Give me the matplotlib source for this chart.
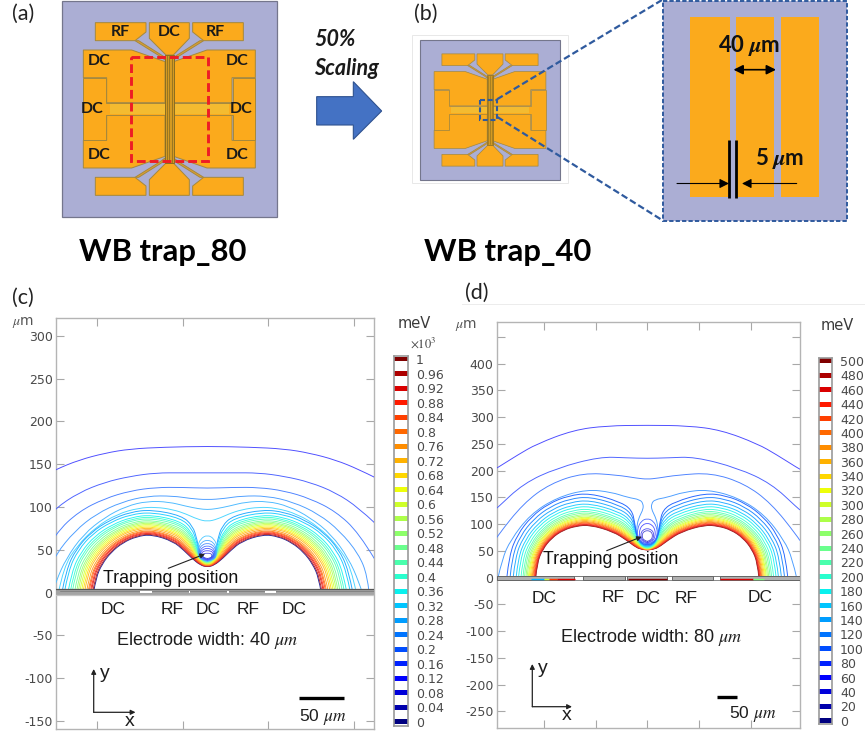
import numpy as np
import matplotlib
matplotlib.use("Agg")
import matplotlib.pyplot as plt
from matplotlib.colors import to_rgb
from matplotlib.patches import Polygon, Rectangle, PathPatch
from matplotlib.path import Path

plt.rcParams['axes.unicode_minus'] = False
plt.rcParams['mathtext.fontset'] = 'stix'

W, H = 865, 737

# ---------- Panel (c): contours in micrometres, left half (mirrored about x=0) ----------
C_YTICKS = [300, 250, 200, 150, 100, 50, 0, -50, -100, -150]
C_XTICKS = [-129, -29, 71, 171]
C_COLORBAR_LABELS = ['1', '0.96', '0.92', '0.88', '0.84', '0.8', '0.76', '0.72', '0.68', '0.64', '0.6', '0.56', '0.52',
                     '0.48', '0.44', '0.4', '0.36', '0.32', '0.28', '0.24', '0.2', '0.16', '0.12', '0.08', '0.04', '0']
C_COLORBAR_VALUES = [1, .96, .92, .88, .84, .8, .76, .72, .68, .64, .6, .56, .52,
                     .48, .44, .4, .36, .32, .28, .24, .2, .16, .12, .08, .04, 0]
C_OUTER_LEVELS = [.04, .08, .12, .16, .20, .24]
C_OUTER = [
    [(-195, 135), (-177, 144), (-150, 155), (-120, 163), (-90, 168), (-50, 170), (0, 171)],
    [(-195, 82), (-177, 99), (-150, 117), (-120, 129), (-90, 136), (-60, 140), (-30, 140), (0, 140)],
    [(-195, 40), (-177, 70), (-150, 95), (-120, 110), (-90, 119), (-60, 123), (-30, 123), (0, 122)],
    [(-189, 0), (-187, 20), (-177, 45), (-155, 72), (-130, 92), (-100, 106), (-70, 113), (-40, 113), (-20, 110), (0, 108.5)],
    [(-181, 0), (-177, 13), (-165, 40), (-145, 68), (-120, 88), (-95, 101), (-70, 107), (-45, 106), (-25, 101), (-10, 98), (0, 97)],
    [(-174, 0), (-168, 30), (-152, 55), (-130, 77), (-105, 92), (-80, 99), (-60, 100), (-40, 97), (-25, 92), (-12, 86), (0, 83)],
]
C_LOBE_X = -65
LOBE_ANGLES = [180, 165, 150, 135, 120, 105, 90]
C_LOBE_LEVELS = [1, .96, .92, .88, .84, .8, .76, .72, .68, .64, .6, .56, .52, .48, .44, .4, .36, .32, .28]
C_LOBE_R = [
    [68, 67.5, 67, 67, 67.5, 68, 68], [69, 68.6, 68, 68, 68.4, 68.9, 69], [70.7, 70.1, 69.5, 69.4, 69.7, 70.1, 70],
    [71.8, 71.2, 70.6, 70.4, 70.6, 71, 71], [73.3, 72.7, 72, 71.8, 71.8, 72.1, 72], [74.5, 73.8, 73.1, 72.8, 72.8, 73, 73],
    [76.4, 75.6, 74.9, 74.5, 74.3, 74.5, 74.5], [78.6, 77.9, 77.1, 76.5, 76.2, 76.3, 76], [80.5, 79.7, 78.9, 78.2, 77.7, 77.7, 77.5],
    [82.4, 81.6, 80.7, 79.9, 79.3, 79.2, 79], [84.3, 83.4, 82.5, 81.6, 80.8, 80.7, 80.5], [86.2, 85.3, 84.3, 83.3, 82.4, 82.2, 82],
    [88.1, 87.1, 86.1, 85, 83.9, 83.6, 83.5], [90.4, 89.3, 88.2, 87.1, 85.8, 85.4, 85], [93.1, 91.9, 90.8, 89.4, 88, 87.5, 87],
    [95.4, 94.1, 92.9, 91.5, 89.8, 89.2, 89], [98, 96.7, 95.4, 93.9, 92, 91.3, 91], [102.2, 100.8, 99.4, 97.6, 95.4, 94.6, 94],
    [105, 103.5, 102, 100, 98, 97.5, 97],
]
C_LOBE_TAIL = [
    [(-40, 60), (-27, 49), (-18, 40), (-8, 32), (0, 30)],
    [(-39.7, 60.9), (-26.7, 49.9), (-17.8, 40.7), (-8, 32.4), (0, 30.2)],
    [(-39.3, 62.1), (-26.3, 51), (-17.6, 41.5), (-8.1, 33), (0, 30.5)],
    [(-39, 63), (-26, 51.9), (-17.4, 42.2), (-8.1, 33.4), (0, 30.7)],
    [(-38.6, 64.2), (-25.6, 53), (-17.2, 43.1), (-8.1, 34), (0, 30.9)],
    [(-38.3, 65.1), (-25.3, 53.9), (-17, 43.7), (-8.2, 34.4), (0, 31.1)],
    [(-37.8, 66.6), (-24.8, 55.4), (-16.7, 44.8), (-8.2, 35), (0, 31.4)],
    [(-37.2, 68.4), (-24.2, 57.1), (-16.3, 46.2), (-8.3, 35.9), (0, 31.8)],
    [(-36.7, 69.9), (-23.7, 58.6), (-16, 47.3), (-8.3, 36.6), (0, 32.1)],
    [(-36.2, 71.4), (-23.2, 60), (-15.7, 48.4), (-8.4, 37.3), (0, 32.5)],
    [(-35.7, 72.9), (-22.7, 61.5), (-15.4, 49.5), (-8.4, 38), (0, 32.8)],
    [(-35.2, 74.4), (-22.2, 62.9), (-15.1, 50.6), (-8.5, 38.7), (0, 33.1)],
    [(-34.7, 75.9), (-21.7, 64.4), (-14.8, 51.7), (-8.5, 39.4), (0, 33.4)],
    [(-34.1, 77.7), (-21.1, 66.1), (-14.5, 53), (-8.6, 40.3), (0, 33.8)],
    [(-33.4, 79.8), (-20.4, 68.1), (-14, 54.5), (-8.7, 41.2), (0, 34.3)],
    [(-32.8, 81.6), (-19.8, 69.9), (-13.7, 55.8), (-8.7, 42.1), (0, 34.7)],
    [(-32.1, 83.7), (-19.1, 71.9), (-13.3, 57.4), (-8.8, 43.1), (0, 35.1)],
    [(-31, 87), (-18, 75.1), (-12.6, 59.8), (-8.9, 44.6), (0, 35.9)],
    [(-30, 90), (-17, 78), (-12, 62), (-9, 46), (0, 36.5)],
]
C_LOOP_LEVELS = [.26, .22, .18, .14, .10, .06, .03]
C_LOOPS = [
    [(0, 36.5), (-8, 38), (-11, 45), (-11.5, 54), (-8, 63), (0, 67.6)],
    [(0, 37), (-8, 38.5), (-10.5, 45), (-10.5, 52), (-7, 59), (0, 61.7)],
    [(0, 37.5), (-7.5, 39), (-10, 45), (-9.5, 51), (-6, 56), (0, 57.8)],
    [(0, 38), (-7, 39.5), (-9, 45), (-8.5, 49.5), (-5, 53.5), (0, 54.7)],
    [(0, 38.5), (-6.5, 40), (-8, 45), (-7.5, 48.5), (-4, 51), (0, 52)],
    [(0, 39), (-5.5, 40.5), (-7, 44), (-6, 47.5), (-3, 48.8), (0, 49)],
    [(0, 40), (-4, 40.5), (-5.5, 43), (-4.5, 45.5), (-2, 46), (0, 46)],
]
C_GAPS = [(-79, -65), (-22, -20), (23, 25), (67, 80)]

# ---------- Panel (d) ----------
D_YTICKS = [400, 350, 300, 250, 200, 150, 100, 50, 0, -50, -100, -150, -200, -250]
D_XTICKS = [-200, -100, 0, 100, 200]
D_COLORBAR_VALUES = [500, 480, 460, 440, 420, 400, 380, 360, 340, 320, 300, 280, 260,
                     240, 220, 200, 180, 160, 140, 120, 100, 80, 60, 40, 20, 0]
D_OUTER_LEVELS = [20, 40, 60, 80]
D_OUTER = [
    [(-295, 203), (-291, 205), (-250, 230), (-214, 250), (-143, 276), (-79, 284), (0, 285)],
    [(-295, 127), (-291, 130), (-240, 176), (-175, 205), (-92, 226), (-40, 224), (0, 223)],
    [(-295, 70), (-291, 77), (-240, 139), (-188, 176), (-124, 196), (-59, 192), (-20, 186), (0, 184)],
    [(-289, 0), (-281, 35), (-265, 70), (-227, 118), (-175, 150), (-117, 165), (-70, 160), (-38, 150), (-14, 146), (-8, 138),
     (-8, 128), (-15, 115), (-20, 100), (-21, 80), (-13, 67), (0, 62)],
]
D_LOBE_X = -111
D_LOBE_LEVELS = [500, 480, 460, 440, 420, 400, 380, 360, 340, 320, 300, 280, 260, 240, 220, 200, 180, 160, 140, 120, 100]
D_LOBE_R = [
    [105, 106, 106, 105, 103, 100, 98.6], [105.7, 106.7, 106.7, 105.7, 103.7, 100.8, 99.4], [106.7, 107.7, 107.7, 106.7, 104.7, 101.8, 100.3],
    [107.8, 108.8, 108.8, 107.8, 105.9, 103, 101.5], [109.1, 110.1, 110.1, 109.1, 107.2, 104.4, 103], [110.6, 111.6, 111.6, 110.6, 108.7, 105.9, 104.5],
    [112, 113, 113, 112, 110.1, 107.4, 106], [113.8, 114.8, 114.8, 113.8, 112, 109.3, 108], [115.8, 116.8, 116.8, 115.8, 113.9, 111.3, 110],
    [117.7, 118.7, 118.7, 117.7, 115.9, 113.3, 112], [119.5, 120.5, 120.5, 119.5, 117.8, 115.3, 114], [121.9, 122.9, 122.9, 121.9, 120.2, 117.8, 116.5],
    [124.2, 125.2, 125.2, 124.2, 122.6, 120.2, 119], [127, 128, 128, 127, 125.5, 123.2, 122], [129.9, 130.9, 130.9, 129.9, 128.3, 126.2, 125],
    [133.7, 134.7, 134.7, 133.7, 132.2, 130.2, 129], [138.4, 139.4, 139.4, 138.4, 137, 135.2, 134], [143, 144, 144, 143, 141.8, 140.1, 139],
    [148.7, 149.7, 149.7, 148.7, 147.5, 146.1, 145], [154.8, 155.8, 155.8, 154.8, 153.7, 152.5, 151.5], [161, 162, 162, 161, 160, 159, 158],
]
D_LOBE_TAIL = [
    [(-66, 86), (-40, 70), (-21, 56), (-10, 53), (-4, 52.2), (0, 52)],
    [(-65.8, 86.7), (-39.9, 70.7), (-21, 56.6), (-10.1, 53.3), (-4.1, 52.4), (0, 52.1)],
    [(-65.6, 87.7), (-39.7, 71.7), (-21.1, 57.4), (-10.3, 53.7), (-4.2, 52.6), (0, 52.3)],
    [(-65.4, 88.8), (-39.5, 72.9), (-21.2, 58.3), (-10.6, 54.2), (-4.4, 52.8), (0, 52.5)],
    [(-65, 90.1), (-39.3, 74.2), (-21.2, 59.4), (-10.8, 54.8), (-4.5, 53.1), (0, 52.7)],
    [(-64.7, 91.6), (-39, 75.7), (-21.3, 60.6), (-11.1, 55.4), (-4.7, 53.4), (0, 52.9)],
    [(-64.4, 93), (-38.8, 77.1), (-21.4, 61.8), (-11.4, 56), (-4.9, 53.7), (0, 53.1)],
    [(-63.9, 94.8), (-38.4, 79), (-21.5, 63.3), (-11.7, 56.8), (-5.1, 54.1), (0, 53.4)],
    [(-63.5, 96.8), (-38.1, 80.9), (-21.6, 64.8), (-12.1, 57.6), (-5.3, 54.5), (0, 53.7)],
    [(-63.1, 98.7), (-37.7, 82.9), (-21.7, 66.4), (-12.5, 58.4), (-5.6, 54.9), (0, 54)],
    [(-62.6, 100.5), (-37.4, 84.8), (-21.8, 67.9), (-12.8, 59.2), (-5.8, 55.3), (0, 54.3)],
    [(-62.1, 102.9), (-37, 87.2), (-21.9, 69.8), (-13.3, 60.2), (-6.1, 55.8), (0, 54.7)],
    [(-61.5, 105.2), (-36.6, 89.6), (-22, 71.8), (-13.8, 61.2), (-6.4, 56.2), (0, 55.1)],
    [(-60.9, 108.1), (-36.1, 92.5), (-22.2, 74.1), (-14.3, 62.5), (-6.8, 56.8), (0, 55.5)],
    [(-60.2, 110.9), (-35.6, 95.3), (-22.3, 76.4), (-14.9, 63.7), (-7.1, 57.4), (0, 56)],
    [(-59.3, 114.7), (-34.9, 99.2), (-22.5, 79.6), (-15.6, 65.3), (-7.6, 58.2), (0, 56.6)],
    [(-58.3, 119.4), (-34, 104), (-22.8, 83.4), (-16.6, 67.3), (-8.2, 59.2), (0, 57.4)],
    [(-57.2, 124.1), (-33.2, 108.8), (-23, 87.3), (-17.5, 69.3), (-8.8, 60.2), (0, 58.1)],
    [(-55.8, 129.7), (-32.2, 114.5), (-23.3, 91.9), (-18.6, 71.7), (-9.5, 61.4), (0, 59)],
    [(-54.4, 135.8), (-31.1, 120.7), (-23.7, 97), (-19.8, 74.4), (-10.2, 62.7), (0, 60)],
    [(-53, 142), (-30, 127), (-24, 102), (-21, 77), (-11, 64), (0, 61)],
]
D_LOOP_LEVELS = [70, 50, 30, 15]
D_LOOPS = [
    [(0, 63.5), (-13, 66), (-19, 78), (-19, 92), (-12, 106), (0, 111)],
    [(0, 65), (-11, 68), (-15.5, 78), (-15, 90), (-9, 99), (0, 102)],
    [(0, 66), (-9, 69), (-12.5, 77), (-12, 85), (-7, 90), (0, 92)],
    [(0, 68), (-7, 70), (-10, 76), (-9.5, 83), (-5, 87), (0, 88)],
]
D_SEGMENTS = [(-225, -200, .3), (-200, -190, .6), (-190, -175, .85), (-175, -140, .92), (-38, 38, 1.0), (140, 205, .92), (205, 225, .5)]
D_ELECTRODES = [(-291, -141), (-124, -43), (-39, 39), (47, 128), (141, 295)]


def px_axes(fig, l, t, r, b):
    return fig.add_axes([l / W, 1 - b / H, (r - l) / W, (b - t) / H])


def soft(color, white):
    c = np.array(to_rgb(color))
    return tuple(c + (1 - c) * white)


def spline_patch(pts, color, lw=0.68, z=3):
    pts = np.asarray(pts, float)
    verts = [pts[0]]
    codes = [Path.MOVETO]
    for i in range(1, len(pts) - 1):
        end = pts[i + 1] if i == len(pts) - 2 else (pts[i] + pts[i + 1]) / 2
        verts += [pts[i], end]
        codes += [Path.CURVE3, Path.CURVE3]
    return PathPatch(Path(verts, codes), fill=False, edgecolor=color, lw=lw, zorder=z, capstyle='round')


def mirrored(half):
    half = np.asarray(half, float)
    other = half[:-1][::-1] * np.array([-1, 1])
    return np.vstack([half, other])


def lobe_half(center, radii, tail):
    a = np.deg2rad(LOBE_ANGLES)
    r = np.asarray(radii)
    head = np.column_stack([center + r * np.cos(a), r * np.sin(a)])
    return np.vstack([head, np.asarray(tail, float)])


def style_axes(ax, xlim, ylim, xticks, yticks, extra=()):
    ax.set_xlim(*xlim)
    ax.set_ylim(*ylim)
    ax.set_xticks(xticks)
    ax.set_yticks(list(yticks) + list(extra))
    ax.set_yticklabels([str(v) for v in yticks] + ['' for _ in extra])
    ax.tick_params(axis='both', direction='in', length=5.5, width=0.8, color='#a8a8a8',
                   top=True, right=True, labelbottom=False, labelsize=9, labelcolor='#4a4a4a', pad=2.5)
    for s in ax.spines.values():
        s.set_color('#b4b4b4')
        s.set_linewidth(1.0)


def colorbar(fig, l, r, t, b, values, labels, y_zero, y_max, vmax):
    ax = px_axes(fig, l, t, r, b)
    per_px = vmax / (y_zero - y_max)
    ax.set_ylim((y_zero - b) * per_px, (y_zero - t) * per_px)
    ax.set_xlim(0, 1)
    cmap = plt.get_cmap('jet')
    ax.barh(values, [1] * len(values), height=5 * per_px, left=0,
            color=[cmap(v / vmax) for v in values], edgecolor='none')
    ax.set_xticks([])
    ax.yaxis.tick_right()
    ax.set_yticks(values)
    ax.set_yticklabels(labels)
    ax.tick_params(axis='y', length=0, labelsize=9, labelcolor='#4a4a4a', pad=5.5)
    for s in ax.spines.values():
        s.set_color('#9a9a9a')
        s.set_linewidth(1.2)
    return ax


fig = plt.figure(figsize=(W / 100, H / 100), dpi=100, facecolor='white')

# ---------- contour panel (c) ----------
jet = plt.get_cmap('jet')
axc = px_axes(fig, 56, 318.3, 373.7, 729.3)
style_axes(axc, (-176.9, 194.4), (-159.7, 320.6), C_XTICKS, C_YTICKS)
for lev, half in zip(C_OUTER_LEVELS, C_OUTER):
    axc.add_patch(spline_patch(mirrored(half), soft(jet(lev + .08), .3)))
for lev, r, tail in zip(C_LOBE_LEVELS, C_LOBE_R, C_LOBE_TAIL):
    axc.add_patch(spline_patch(mirrored(lobe_half(C_LOBE_X, r, tail)), soft(jet(lev), .15)))
for lev, half in zip(C_LOOP_LEVELS, C_LOOPS):
    axc.add_patch(spline_patch(mirrored(half), soft(jet(lev + .04), .3), lw=0.6))
axc.add_patch(Rectangle((-177, -3), 372, 7, fc='#a4a4a4', ec='none', zorder=4))
axc.plot([-177, 195], [4, 4], color='#555555', lw=0.9, zorder=5)
axc.plot([-177, 195], [-3, -3], color='#c4c4c4', lw=0.9, zorder=5)
axc.plot([-172, 195], [1.5, 1.5], color='#777777', lw=0.5, zorder=5)
for g0, g1 in C_GAPS:
    axc.add_patch(Rectangle((g0, -1), g1 - g0, 2.6, fc='white', ec='none', zorder=6))

# ---------- contour panel (d) ----------
axd = px_axes(fig, 497, 321.7, 799.7, 727.7)
style_axes(axd, (-291, 295), (-280.4, 478.5), D_XTICKS, D_YTICKS, extra=[450])
for lev, half in zip(D_OUTER_LEVELS, D_OUTER):
    axd.add_patch(spline_patch(mirrored(half), soft(jet(lev / 500 + .08), .3)))
for lev, r, tail in zip(D_LOBE_LEVELS, D_LOBE_R, D_LOBE_TAIL):
    axd.add_patch(spline_patch(mirrored(lobe_half(D_LOBE_X, r, tail)), soft(jet(lev / 500), .15)))
for lev, half in zip(D_LOOP_LEVELS, D_LOOPS):
    axd.add_patch(spline_patch(mirrored(half), soft(jet(lev / 500 + .03), .3), lw=0.6))
axd.add_patch(Rectangle((-291, -4.4), 586, 8, fc='white', ec='none', zorder=4))
axd.plot([-291, 295], [3.2, 3.2], color='#777777', lw=0.7, zorder=5)
axd.plot([-291, 295], [-4.4, -4.4], color='#8a8a8a', lw=0.7, zorder=5)
for e0, e1 in D_ELECTRODES:
    axd.add_patch(Rectangle((e0, -4.4), e1 - e0, 7.6, fc='#b0b0b0', ec='#666666', lw=0.7, zorder=5))
for s0, s1, lev in D_SEGMENTS:
    axd.plot([s0, s1], [-3, -3], color=jet(lev), lw=1.0, zorder=6, solid_capstyle='butt')

# ---------- colour bars ----------
colorbar(fig, 394, 408, 356, 725.5, C_COLORBAR_VALUES, C_COLORBAR_LABELS, 721.7, 359, 1.0)
colorbar(fig, 819, 832.3, 358, 724, D_COLORBAR_VALUES, [str(v) for v in D_COLORBAR_VALUES], 720.7, 361, 500)

# ---------- overlay in pixel coordinates ----------
ov = fig.add_axes([0, 0, 1, 1], zorder=10)
ov.set_xlim(0, W)
ov.set_ylim(H, 0)
ov.axis('off')
ov.patch.set_alpha(0)

LILAC, ORANGE, EDGE = '#abaed4', '#fbaa1c', '#a5883c'
SANS = 'Lato'
ARIAL = 'Liberation Sans'


def chip(tf, lw=0.7):
    quad = [
        [(286, 68), (438, 68), (438, 96), (405, 122), (286, 122)],
        [(250, 150), (395, 150), (495, 185), (495, 308), (320, 308), (320, 233), (250, 233)],
    ]
    def add(poly, fc=ORANGE, ec=EDGE, z=2):
        ov.add_patch(Polygon(tf(np.array(poly, float)), closed=True, fc=fc, ec=ec, lw=lw, zorder=z))
    for poly in quad:
        p = np.array(poly, float)
        for sx in (0, 1):
            for sy in (0, 1):
                q = p.copy()
                if sx:
                    q[:, 0] = 1016 - q[:, 0]
                if sy:
                    q[:, 1] = 654 - q[:, 1]
                add(q)
    lead = np.array([(405, 122), (416, 122), (495, 172), (495, 180), (482, 170)], float)
    for sx in (0, 1):
        for sy in (0, 1):
            q = lead.copy()
            if sx:
                q[:, 0] = 1016 - q[:, 0]
            if sy:
                q[:, 1] = 654 - q[:, 1]
            add(q, fc='#e0a030')
    pad = np.array([(448, 68), (568, 68), (568, 115), (520, 165), (498, 165), (448, 115)], float)
    for sy in (0, 1):
        q = pad.copy()
        if sy:
            q[:, 1] = 654 - q[:, 1]
        add(q)
    mid = np.array([(250, 233), (318, 233), (318, 308), (495, 308), (495, 346), (318, 346), (318, 421), (250, 421)], float)
    for sx in (0, 1):
        q = mid.copy()
        if sx:
            q[:, 0] = 1016 - q[:, 0]
        add(q)
        s = np.array([(330, 312), (495, 312), (495, 342), (330, 342)], float)
        if sx:
            s[:, 0] = 1016 - s[:, 0]
        add(s, fc='#f4bb30', ec='none', z=3)
    add([(495, 165), (521, 165), (521, 489), (495, 489)], fc='#d49a22', ec='#8a6d20', z=3)
    for x in (501, 508, 515):
        a = tf(np.array([(x, 168), (x, 486)], float))
        ov.plot(a[:, 0], a[:, 1], color='#8a6d20', lw=lw * .8, zorder=4)


def tf_a(p):
    return p / 3


def tf_b(p):
    return np.column_stack([400 + (270 + (p[:, 0] - 508) * .65) / 3, (330 + (p[:, 1] - 327) * .65) / 3])


# panel (a)
ov.add_patch(Rectangle((61.7, 1), 215.3, 216, fc=LILAC, ec='#74768c', lw=0.9, zorder=1))
chip(tf_a)
ov.add_patch(Rectangle((131, 57), 77, 104, fill=False, ec='#ee1c25', lw=2.1, ls=(0, (3, 1.4)), zorder=6))
for s, x, y in [('RF', 120, 32), ('DC', 169.5, 32), ('RF', 215.5, 32), ('DC', 99, 61), ('DC', 237.5, 61),
                ('DC', 92, 109), ('DC', 241, 109), ('DC', 99, 155), ('DC', 237.5, 155)]:
    ov.text(x, y, s, ha='center', va='center', fontsize=11.5, fontweight='bold', family=SANS, color='#1a1a1a', zorder=7)
ov.text(23, 14, '(a)', ha='center', va='center', fontsize=15.5, family=SANS, color='#222222')
ov.text(163, 252, 'WB trap_80', ha='center', va='center', fontsize=22.3, fontweight='bold', family=SANS, color='black')
ov.text(314, 39.5, '50%', ha='left', va='center', fontsize=15.5, fontweight='bold', style='italic', family=SANS, color='#1a1a1a')
ov.text(314, 68.5, 'Scaling', ha='left', va='center', fontsize=15.5, fontweight='bold', style='italic', family=SANS, color='#1a1a1a')
ov.add_patch(Polygon(np.array([(950, 290), (1060, 290), (1060, 245), (1145, 333), (1060, 418), (1060, 375), (950, 375)]) / 3,
                     closed=True, fc='#4472c4', ec='#2f528f', lw=0.8))

# panel (b)
ov.add_patch(Rectangle((411.7, 35), 156.6, 148.3, fc='white', ec='#e8e8e8', lw=0.7, zorder=0))
ov.add_patch(Rectangle((420, 40), 140, 140, fc=LILAC, ec='#74768c', lw=0.8, zorder=1))
chip(tf_b, lw=0.5)
BLUE = '#2f5a9e'
ov.add_patch(Rectangle((480, 100), 17.3, 20, fill=False, ec=BLUE, lw=1.5, ls=(0, (2.4, 1.3)), zorder=6))
ov.plot([497, 662], [99.3, 0], color=BLUE, lw=1.6, ls=(0, (3, 1.4)), zorder=6)
ov.plot([497.3, 662], [117, 220], color=BLUE, lw=1.6, ls=(0, (3, 1.4)), zorder=6)
ov.add_patch(Rectangle((662.7, 0.7), 184.6, 220.3, fc=LILAC, ec=BLUE, lw=1.4, ls=(0, (2.2, 1.1)), zorder=5))
for x0, x1 in [(871, 989), (1007, 1122), (1143, 1258)]:
    ov.add_patch(Rectangle((400 + x0 / 3, 17.3), (x1 - x0) / 3, 180, fc=ORANGE, ec='none', zorder=6))
ov.text(749, 45, '40 $\\boldsymbol{\\mu}$m', ha='center', va='center', fontsize=16, fontweight='bold', family=SANS, color='#111111', zorder=8)
ov.text(780, 158, '5 $\\boldsymbol{\\mu}$m', ha='center', va='center', fontsize=16, fontweight='bold', family=SANS, color='#111111', zorder=8)
ov.annotate('', xy=(733.5, 69.7), xytext=(776, 69.7), zorder=8,
            arrowprops=dict(arrowstyle='<|-|>', color='black', lw=1.2, mutation_scale=14, shrinkA=0, shrinkB=0))
for x in (729.3, 736.3):
    ov.plot([x, x], [140, 197.7], color='black', lw=2.0, zorder=8, solid_capstyle='butt')
ov.annotate('', xy=(729, 183.5), xytext=(677, 183.5), zorder=8,
            arrowprops=dict(arrowstyle='-|>', color='black', lw=0.8, mutation_scale=14, shrinkA=0, shrinkB=0))
ov.annotate('', xy=(742, 183.5), xytext=(796.7, 183.5), zorder=8,
            arrowprops=dict(arrowstyle='-|>', color='black', lw=0.8, mutation_scale=14, shrinkA=0, shrinkB=0))
ov.text(426, 14, '(b)', ha='center', va='center', fontsize=15.5, family=SANS, color='#222222')
ov.text(508, 252, 'WB trap_40', ha='center', va='center', fontsize=22.3, fontweight='bold', family=SANS, color='black')


def annotate_field(labels, trap_xy, trap_from, trap_to, elec_xy, elec_txt, origin, y_tip, x_tip, y_lab, x_lab, bar, bar_y, bar_lab, unit_xy, mev_xy):
    for s, x, y in labels:
        ov.text(x, y, s, ha='center', va='center', fontsize=12.5, family=ARIAL, color='#1e1e1e')
    ov.text(*trap_xy, 'Trapping position', ha='center', va='center', fontsize=12.8, family=ARIAL, color='#111111')
    ov.annotate('', xy=trap_to, xytext=trap_from,
                arrowprops=dict(arrowstyle='-|>', color='#222222', lw=0.8, mutation_scale=7, shrinkA=0, shrinkB=0))
    ov.text(*elec_xy, elec_txt, ha='center', va='center', fontsize=13, family=ARIAL, color='#1e1e1e')
    for tip in (y_tip, x_tip):
        ov.annotate('', xy=tip, xytext=origin,
                    arrowprops=dict(arrowstyle='-|>', color='#222222', lw=0.9, mutation_scale=7, shrinkA=0, shrinkB=0))
    ov.text(*y_lab, 'y', ha='center', va='center', fontsize=14, family=ARIAL, color='#1e1e1e')
    ov.text(*x_lab, 'x', ha='center', va='center', fontsize=14, family=ARIAL, color='#1e1e1e')
    ov.plot(bar, [bar_y, bar_y], color='black', lw=2.4, solid_capstyle='butt')
    ov.text(*bar_lab, '50 $\\mu m$', ha='center', va='center', fontsize=12.5, family=ARIAL, color='#1e1e1e')
    ov.text(*unit_xy, '$\\mu$m', ha='center', va='center', fontsize=10, family='DejaVu Sans', color='#555555')
    ov.text(*mev_xy, 'meV', ha='center', va='center', fontsize=10.5, family='DejaVu Sans', color='#3a3a3a')


ov.text(23, 298, '(c)', ha='center', va='center', fontsize=15.5, family=SANS, color='#222222')
annotate_field([('DC', 112.7, 609.5), ('RF', 172, 609.5), ('DC', 208.3, 610), ('RF', 247.7, 610), ('DC', 293.7, 610)],
               (171, 578.3), (168.3, 568.3), (205, 554), (206.7, 640.7), 'Electrode width: 40 $\\mu m$',
               (93.7, 712.3), (93.7, 669), (135.5, 712.3), (104.5, 674), (130, 721.5),
               (299, 344.3), 698.3, (322.5, 717.3), (23.5, 322.7), (414.5, 323.3))
ov.text(423, 343, '$\\times10^3$', ha='center', va='center', fontsize=9, family='DejaVu Sans', color='#444444')

ov.text(477, 293, '(d)', ha='center', va='center', fontsize=15.5, family=SANS, color='#222222')
ov.plot([462, 865], [303.5, 303.5], color='#ececec', lw=0.7)
annotate_field([('DC', 544.3, 598.3), ('RF', 612.7, 597.3), ('DC', 647.7, 598.3), ('RF', 685.7, 598.3), ('DC', 760, 597.7)],
               (610.3, 560), (606.7, 550.7), (641.7, 536.7), (651, 637.3), 'Electrode width: 80 $\\mu m$',
               (532.3, 706.7), (532.3, 664), (572, 706.7), (542.7, 668.3), (566.7, 715),
               (736.7, 763.3 - 46), 697.3, (752.3, 714.3), (466, 325), (837.7, 325))

fig.savefig('out.png', dpi=100)
